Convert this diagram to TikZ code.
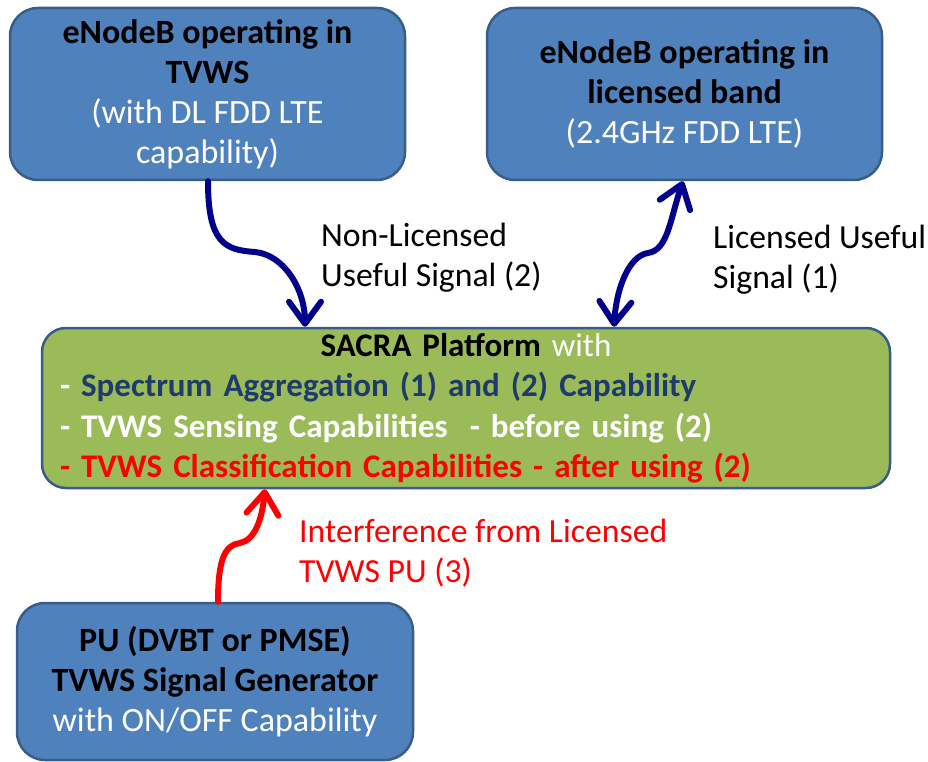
\documentclass[tikz,border=0pt]{standalone}
\usepackage{fontspec}
\setmainfont{Carlito}
\usetikzlibrary{arrows.meta,calc}
\definecolor{boxblue}{HTML}{4F81BD}
\definecolor{boxedge}{HTML}{385D8A}
\definecolor{boxgreen}{HTML}{9BBB59}
\definecolor{navytext}{HTML}{1F3B6E}
\definecolor{arrownavy}{HTML}{00008C}
\definecolor{sigred}{HTML}{FF0000}
\tikzset{
  bluebox/.style={draw=boxedge, line width=2.5pt, fill=boxblue, rounded corners=28pt,
    align=center, inner sep=0pt, font=\fontsize{34}{40}\selectfont},
  greenbox/.style={draw=boxedge, line width=2.5pt, fill=boxgreen, rounded corners=24pt,
    align=left, inner sep=0pt, font=\fontsize{33}{40.5}\selectfont},
  siglabel/.style={align=left, inner sep=0pt, anchor=west, font=\fontsize{33.7}{40}\selectfont},
  sigarrow/.style={line width=6pt, line cap=round, arrownavy},
  sigtip/.tip={Straight Barb[length=22pt,width=32pt,round]},
}
\begin{document}
\begin{tikzpicture}[x=1pt,y=-1pt]
\useasboundingbox (0,0) rectangle (928,762);
\node[bluebox, minimum width=395pt, minimum height=172pt] (b1) at (207.5,94)
  {\textbf{eNodeB operating in}\\\textbf{TVWS}\\\textcolor{white}{(with DL FDD LTE}\\\textcolor{white}{capability)}};
\node[bluebox, minimum width=395pt, minimum height=172pt] (b2) at (684.5,94)
  {\textbf{eNodeB operating in}\\\textbf{licensed band}\\\textcolor{white}{(2.4GHz FDD LTE)}};
\node[greenbox, minimum width=848pt, minimum height=160pt, text width=812pt] (g) at (466,408)
  {\makebox[\linewidth][c]{\hspace{0pt}\textbf{SACRA Platform} \textcolor{white}{with}}\\
   \textbf{\textcolor{white}{- }\textcolor{navytext}{Spectrum Aggregation (1) and (2) Capability}}\\
   \textbf{\textcolor{white}{- TVWS Sensing Capabilities\ \ - before using (2)}}\\
   \textbf{\textcolor{sigred}{- TVWS Classification Capabilities - after using (2)}}};
\node[bluebox, minimum width=396pt, minimum height=157pt] (pu) at (215,681.5)
  {\textbf{PU (DVBT or PMSE)}\\\textbf{TVWS Signal Generator}\\\textcolor{white}{with ON/OFF Capability}};
\node[siglabel] (l2) at (321,258) {Non-Licensed\\Useful Signal (2)};
\node[siglabel] (l1) at (713,260) {Licensed Useful\\Signal (1)};
\node[siglabel, text=sigred] (l3) at (299,553) {Interference from Licensed\\TVWS PU (3)};
\coordinate (a1s) at ([xshift=0.5pt]b1.south);
\coordinate (a1e) at ([xshift=-161pt]g.north);
\draw[sigarrow, -sigtip] (a1s) .. controls +(0,62) and (225,250) .. (255,252)
  .. controls (285,255) and ($(a1e)+(0,-36)$) .. (a1e);
\coordinate (a2s) at ([xshift=-1.5pt]b2.south);
\coordinate (a2e) at ([xshift=148pt]g.north);
\draw[sigarrow, sigtip-sigtip] (a2s) .. controls +(-13,38) and (668,250) .. (648,253)
  .. controls (628,256) and ($(a2e)+(2,-36)$) .. (a2e);
\coordinate (a3s) at ([xshift=3pt]pu.north);
\coordinate (a3e) at ([xshift=-201pt]g.south);
\draw[sigarrow, sigred, -sigtip] (a3s) .. controls +(0,-43) and (225,545) .. (240,543)
  .. controls (255,540) and ($(a3e)+(-3,30)$) .. (a3e);
\end{tikzpicture}
\end{document}
